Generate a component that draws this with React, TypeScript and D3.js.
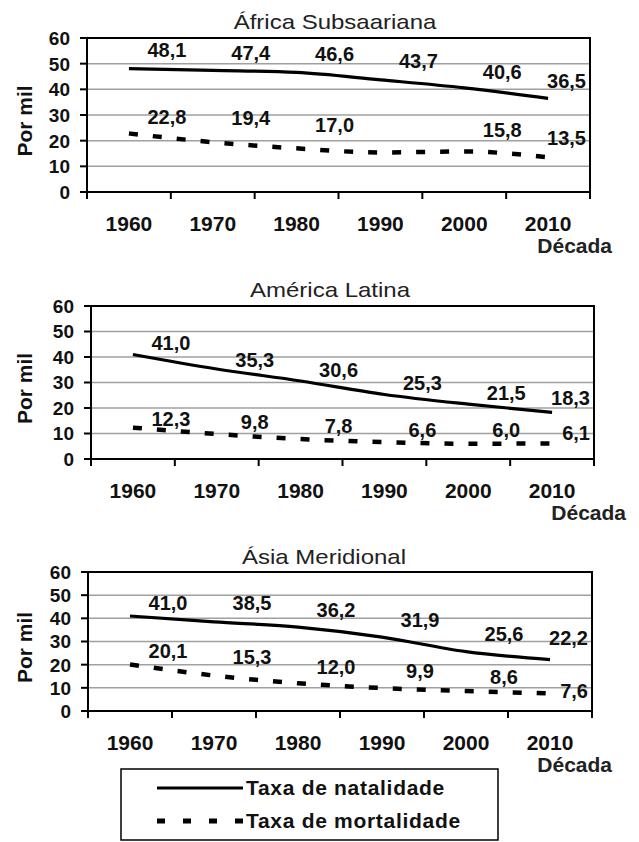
import * as d3 from 'd3'

// decades on the category axis
const decades = ['1960', '1970', '1980', '1990', '2000', '2010']
const yTicks = [0, 10, 20, 30, 40, 50, 60]

// births / deaths per thousand
const africaBirth = [48.1, 47.4, 46.6, 43.7, 40.6, 36.5]
const africaDeath = [22.8, 19.4, 17.0, 15.4, 15.8, 13.5]
const latinBirth = [41.0, 35.3, 30.6, 25.3, 21.5, 18.3]
const latinDeath = [12.3, 9.8, 7.8, 6.6, 6.0, 6.1]
const asiaBirth = [41.0, 38.5, 36.2, 31.9, 25.6, 22.2]
const asiaDeath = [20.1, 15.3, 12.0, 9.9, 8.6, 7.6]

const legendItems = ['Taxa de natalidade', 'Taxa de mortalidade']

const FONT = "'Liberation Sans', Arial, sans-serif"
const fmt = (v: number) => d3.format('.1f')(v).replace('.', ',')

type Panel = {
  title: string
  birth: number[]
  death: number[]
  // label baseline nudges (null = no label), layout only
  birthDy: number[]
  deathDy: (number | null)[]
  left: number
  right: number
  top: number
  bottom: number
  titleX: number
  titleY: number
  decadaRight: number
}

const panels: Panel[] = [
  {
    title: 'África Subsaariana',
    birth: africaBirth,
    death: africaDeath,
    birthDy: [-12, -10, -11, -12, -9, -10],
    deathDy: [-9, -17, -16, null, -14, -12],
    left: 87, right: 590, top: 38, bottom: 192,
    titleX: 335, titleY: 29, decadaRight: 612,
  },
  {
    title: 'América Latina',
    birth: latinBirth,
    death: latinDeath,
    birthDy: [-4, -2, -4, -4, -4, -7],
    deathDy: [-2, -5, -6, -5, -7, -3],
    left: 91, right: 594, top: 306, bottom: 459,
    titleX: 330, titleY: 297, decadaRight: 626,
  },
  {
    title: 'Ásia Meridional',
    birth: asiaBirth,
    death: asiaDeath,
    birthDy: [-6, -12, -10, -10, -11, -15],
    deathDy: [-6, -12, -9, -10, -7, 5],
    left: 88, right: 592, top: 572, bottom: 711,
    titleX: 324, titleY: 564, decadaRight: 612,
  },
]

function ChartPanel({ p }: { p: Panel }) {
  const x = d3.scaleBand<string>().domain(decades).range([p.left, p.right])
  const y = d3.scaleLinear().domain([0, 60]).range([p.bottom, p.top])
  const cx = (d: string) => (x(d) ?? 0) + x.bandwidth() / 2

  const line = d3
    .line<number>()
    .x((_, i) => cx(decades[i]))
    .y((v) => y(v))
    .curve(d3.curveMonotoneX)

  const edges = [...decades.map((d) => x(d) ?? 0), p.right]

  const labels = (vals: number[], dys: (number | null)[]) =>
    vals.map((v, i) => {
      const dy = dys[i]
      if (dy === null) return null
      const last = i === vals.length - 1
      return (
        <text
          key={i}
          x={last ? p.right - 4 : cx(decades[i]) + 38}
          y={y(v) + dy}
          textAnchor={last ? 'end' : 'middle'}
          fontSize={20}
          fontWeight="bold"
          fill="#111"
        >
          {fmt(v)}
        </text>
      )
    })

  return (
    <g fontFamily={FONT}>
      <text
        transform={`translate(${p.titleX},${p.titleY}) scale(1.2,1)`}
        textAnchor="middle"
        fontSize={20}
        fill="#222"
      >
        {p.title}
      </text>

      {yTicks.slice(1, -1).map((t) => (
        <line key={t} x1={p.left} x2={p.right} y1={y(t)} y2={y(t)} stroke="#a0a0a0" strokeWidth={1.5} />
      ))}
      <rect x={p.left} y={p.top} width={p.right - p.left} height={p.bottom - p.top} fill="none" stroke="#000" strokeWidth={2} />

      {yTicks.map((t) => (
        <g key={t}>
          <line x1={p.left - 7} x2={p.left} y1={y(t)} y2={y(t)} stroke="#000" strokeWidth={2} />
          <text x={p.left - 17} y={y(t)} dy="0.36em" textAnchor="end" fontSize={19} fontWeight="bold" fill="#111">
            {t}
          </text>
        </g>
      ))}
      {edges.map((e, i) => (
        <line key={i} x1={e} x2={e} y1={p.bottom} y2={p.bottom + 7} stroke="#000" strokeWidth={2} />
      ))}
      {decades.map((d) => (
        <text key={d} x={cx(d)} y={p.bottom + 39} textAnchor="middle" fontSize={21} fontWeight="bold" fill="#111">
          {d}
        </text>
      ))}
      <text x={p.decadaRight} y={p.bottom + 61} textAnchor="end" fontSize={21} fontWeight="bold" fill="#222">
        Década
      </text>
      <text
        transform={`translate(32,${(p.top + p.bottom) / 2 + 6}) rotate(-90)`}
        textAnchor="middle"
        fontSize={21}
        fontWeight="bold"
        fill="#111"
      >
        Por mil
      </text>

      <path d={line(p.birth) ?? ''} fill="none" stroke="#000" strokeWidth={3.2} />
      <path d={line(p.death) ?? ''} fill="none" stroke="#000" strokeWidth={4.5} strokeDasharray="9,15" />

      {labels(p.birth, p.birthDy)}
      {labels(p.death, p.deathDy)}
    </g>
  )
}

function Legend() {
  const rows = d3.scalePoint<string>().domain(legendItems).range([788, 821])
  return (
    <g fontFamily={FONT}>
      <rect x={121} y={769} width={377} height={71} fill="#fff" stroke="#000" strokeWidth={1.5} />
      {legendItems.map((name, i) => {
        const yy = rows(name) ?? 0
        return (
          <g key={name}>
            <line
              x1={157}
              x2={i === 0 ? 243 : 245}
              y1={yy}
              y2={yy}
              stroke="#000"
              strokeWidth={i === 0 ? 3.2 : 5}
              strokeDasharray={i === 0 ? undefined : '8,18'}
            />
            <text x={246} y={yy + 7} fontSize={21} fontWeight="bold" letterSpacing={0.7} fill="#111">
              {name}
            </text>
          </g>
        )
      })}
    </g>
  )
}

export default function App() {
  return (
    <div style={{ position: 'absolute', left: 0, top: 0 }}>
      <svg width={639} height={842} viewBox="0 0 639 842" style={{ display: 'block', background: '#fff' }}>
        {panels.map((p) => (
          <ChartPanel key={p.title} p={p} />
        ))}
        <Legend />
      </svg>
    </div>
  )
}
